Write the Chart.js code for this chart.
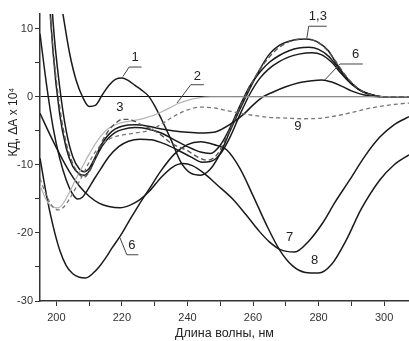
<!DOCTYPE html>
<html>
<head>
<meta charset="utf-8">
<script src="https://cdn.jsdelivr.net/npm/chart.js@4.4.1/dist/chart.umd.min.js"></script>
<style>
  html, body { margin: 0; padding: 0; background: #fff; }
  canvas { display: block; }
</style>
</head>
<body>
<canvas id="cd-chart" width="409" height="341"></canvas>
<script>
// Wavelength (nm) and CD values (dA x 10^4)
const wl1 = [196, 198, 200, 202, 204, 206, 208, 210, 212, 214, 216, 218, 220, 222, 224, 226, 228, 230, 232, 235, 238, 241, 244, 247, 250, 253, 256, 259, 262, 265, 268, 271, 274, 277, 280, 283, 286, 289, 292, 295, 298, 301, 307.6];
const cd1 = [40, 27, 18.5, 12.2, 6.5, 2.5, 0, -1.4, -1.2, 0.3, 1.7, 2.6, 2.8, 2.4, 1.7, 1.0, 0.2, -1.3, -3.2, -6.3, -9.6, -11.2, -11.5, -10.6, -8.3, -5.0, -1.8, 1.2, 4.0, 6.3, 7.6, 8.2, 8.5, 8.5, 8.0, 6.8, 4.5, 2.6, 1.2, 0.5, 0.1, 0, 0];

const wl2 = [195, 197, 199, 200.5, 202, 204, 206, 208, 210, 212, 214, 216.3, 219, 222, 225.5, 229, 232, 234.6, 237, 240, 243.8, 247, 307.6];
const cd2 = [-13, -15.2, -16.2, -16.3, -15.7, -14, -12, -10.2, -8.4, -6.8, -5.5, -4.5, -3.9, -3.6, -3.3, -2.8, -2.2, -1.6, -1.0, -0.5, -0.1, 0, 0];

const wl3 = [195, 197, 199, 201, 203, 205, 207, 208.5, 210, 212, 214, 216, 218, 220, 222, 224, 226, 228.5, 232, 235, 240, 243, 246, 249, 252, 255, 258, 261, 264, 267, 270, 273, 276, 279, 282, 285, 288, 291, 294, 297, 300, 307.6];
const cd3 = [40, 20, 7, -1.5, -6.8, -9.8, -11.4, -11.8, -11.0, -8.8, -6.5, -4.9, -3.9, -3.3, -3.3, -3.6, -4.1, -4.6, -5.6, -6.8, -7.9, -8.8, -9.3, -8.5, -5.8, -2.6, 0.5, 3.2, 5.3, 6.9, 7.9, 8.4, 8.5, 8.2, 7.2, 5.4, 3.3, 1.7, 0.7, 0.2, 0, 0];

const wl4 = [195, 197, 199, 201, 203, 205, 207, 208.5, 210, 212, 214, 216, 218, 220, 224, 228, 232, 236, 240, 244, 247, 250, 253, 256, 259, 262, 265, 268, 271, 274, 277, 280, 283, 286, 289, 292, 295, 298, 301, 307.6];
const cd4 = [45, 22, 6.5, -2.5, -7.5, -10.2, -11.3, -11.5, -10.9, -9.0, -7.2, -6.0, -5.2, -4.8, -4.5, -4.7, -5.3, -6.3, -7.3, -8.1, -8.3, -7.1, -4.5, -1.3, 1.6, 3.6, 5.1, 6.1, 6.8, 7.2, 7.3, 7.0, 6.0, 4.3, 2.5, 1.2, 0.5, 0.1, 0, 0];

const wl5 = [195, 197, 199, 201, 203, 205, 206.5, 208, 209.5, 211.5, 213.5, 216, 219, 222, 225.5, 229, 233, 237, 241, 244.5, 247, 250, 253, 256, 259, 262, 265, 268, 271, 274, 278, 281, 284, 287, 290, 293, 296, 299, 307.6];
const cd5 = [9.3, 1.8, -4.5, -9.0, -12.2, -14.3, -15.0, -14.7, -13.7, -12.1, -10.6, -8.8, -7.3, -6.5, -6.2, -6.3, -6.9, -7.8, -8.8, -9.6, -9.5, -8.4, -5.9, -2.6, 0.4, 2.7, 4.2, 5.2, 5.9, 6.3, 6.5, 6.2, 5.1, 3.4, 1.9, 0.9, 0.3, 0.05, 0];

const wl6 = [195, 197, 199, 201, 203, 205, 207, 208.5, 210, 212, 214, 216, 218, 220, 224, 228, 232, 236, 240, 244, 248, 251, 254, 257, 260, 263, 266, 270, 274, 278, 281, 284, 287, 290, 294, 298, 307.6];
const cd6 = [50, 28, 11, 1.5, -5, -8.8, -10.6, -11.0, -10.5, -8.7, -6.8, -5.5, -4.7, -4.3, -4.1, -4.3, -4.7, -5.0, -5.2, -5.3, -5.2, -4.6, -3.7, -2.6, -1.2, 0, 0.7, 1.5, 2.1, 2.4, 2.5, 2.2, 1.6, 0.9, 0.3, 0.05, 0];

const wl7 = [195, 198, 201, 204, 207, 210, 213, 216, 219.4, 222.5, 225.5, 228.5, 232, 235.5, 238.6, 241.5, 245, 249, 253.8, 258, 262, 265, 268.2, 272.7, 277, 281.3, 285, 289.5, 294, 298.7, 303, 307.6];
const cd7 = [-2.4, -5.5, -8.4, -11.0, -13.1, -14.6, -15.6, -16.1, -16.3, -15.9, -15.1, -13.8, -11.8, -10.3, -9.8, -10.1, -11.2, -12.9, -15.0, -17.4, -19.8, -21.3, -22.4, -22.8, -21.2, -18.5, -15.5, -12.2, -8.8, -5.9, -4.1, -2.9];

const wl8 = [195, 197, 199, 201, 203, 205, 207, 209, 211, 213, 215, 217, 219.4, 222, 225, 228.5, 232, 236, 240, 244, 248, 252, 256, 260, 264, 268, 272, 276, 280, 284, 288.6, 293, 298.7, 303, 307.6];
const cd8 = [-9, -14.5, -19, -22.5, -24.8, -26, -26.5, -26.6, -26, -25, -23.7, -22.2, -20.5, -18.4, -16, -13.4, -10.8, -8.4, -7, -6.6, -7, -7.8, -10.5, -14.5, -18.7, -22.4, -24.8, -25.8, -25.9, -24.6, -20.9, -16.5, -12.2, -10, -8.5];

const wl9 = [195, 197, 199, 200.5, 202, 204, 206, 208, 210, 212, 214, 217, 220, 224, 228.5, 232, 236, 240, 244, 248, 252, 256, 260, 265, 270, 275, 280, 285, 290, 295, 300, 304, 307.6];
const cd9 = [-12, -14.5, -16.2, -16.6, -16.3, -15, -13.3, -11.5, -9.6, -8, -6.9, -6, -5.6, -5.3, -4.9, -4, -2.8, -1.9, -1.5, -1.6, -2, -2.4, -2.7, -3, -3.1, -3.2, -3.15, -2.8, -2.3, -1.7, -1.3, -1.05, -0.9];

// Curve labels: text, anchor (nm, value) and leader polyline in data units
const curveLabels = [
    { text: '1',   at: [224, 5.8],     leader: [[220.3, 3.0], [222.2, 4.4], [226, 4.4]] },
    { text: '2',   at: [243, 3.0],     leader: [[236.8, -0.9], [241, 1.8], [245, 1.8]] },
    { text: '3',   at: [219.4, -1.5],  leader: null },
    { text: '1,3', at: [279.8, 11.8],  leader: [[276.4, 8.6], [277, 10.4], [282.5, 10.4]] },
    { text: '6',   at: [291.3, 6.3],   leader: [[281.9, 2.5], [286.5, 4.85], [293.5, 4.85]] },
    { text: '9',   at: [273.7, -4.4],  leader: null },
    { text: '7',   at: [271.2, -20.7], leader: null },
    { text: '8',   at: [278.8, -24.1], leader: null },
    { text: '6',   at: [223, -21.9],   leader: [[219.4, -20.7], [221.5, -23.2], [225, -23.2]] }
];

const yTitle = 'КД, ΔA x 10⁴';
const xTitle = 'Длина волны, нм';

function points(xs, ys) {
    return xs.map((x, i) => ({ x: x, y: ys[i] }));
}

function curve(xs, ys, color, width, dash) {
    return {
        data: points(xs, ys),
        borderColor: color,
        borderWidth: width,
        borderDash: dash || [],
        pointRadius: 0,
        fill: false,
        cubicInterpolationMode: 'monotone'
    };
}

// draws the y title and the numbered curve labels
const labelPlugin = {
    id: 'curveLabels',
    afterDraw(chart) {
        const ctx = chart.ctx;
        const xs = chart.scales.x;
        const ys = chart.scales.y;
        ctx.save();
        ctx.strokeStyle = '#444';
        ctx.lineWidth = 1;
        curveLabels.forEach(l => {
            if (l.leader) {
                ctx.beginPath();
                l.leader.forEach((p, i) => {
                    const px = xs.getPixelForValue(p[0]);
                    const py = ys.getPixelForValue(p[1]);
                    if (i === 0) ctx.moveTo(px, py); else ctx.lineTo(px, py);
                });
                ctx.stroke();
            }
            ctx.fillStyle = '#222';
            ctx.font = '13px "Liberation Sans", Arial, sans-serif';
            ctx.textAlign = 'center';
            ctx.textBaseline = 'middle';
            ctx.fillText(l.text, xs.getPixelForValue(l.at[0]), ys.getPixelForValue(l.at[1]));
        });

        ctx.translate(14, 122);
        ctx.rotate(-Math.PI / 2);
        ctx.fillStyle = '#222';
        ctx.font = '12px "Liberation Sans", Arial, sans-serif';
        ctx.textAlign = 'center';
        ctx.textBaseline = 'middle';
        ctx.fillText(yTitle, 0, 0);
        ctx.restore();
    }
};

const ctx = document.getElementById('cd-chart').getContext('2d');
new Chart(ctx, {
    type: 'line',
    data: {
        datasets: [
            curve(wl3, cd3, '#555', 1.4, [5, 3]),
            curve(wl9, cd9, '#777', 1.3, [4, 3]),
            curve(wl2, cd2, '#b4b4b4', 1.2),
            curve(wl1, cd1, '#1a1a1a', 1.5),
            curve(wl4, cd4, '#1a1a1a', 1.5),
            curve(wl5, cd5, '#1a1a1a', 1.5),
            curve(wl6, cd6, '#1a1a1a', 1.5),
            curve(wl7, cd7, '#1a1a1a', 1.5),
            curve(wl8, cd8, '#1a1a1a', 1.5)
        ]
    },
    options: {
        responsive: false,
        devicePixelRatio: 1,
        animation: false,
        layout: { padding: { top: 14, right: 0, bottom: 0, left: 0 } },
        plugins: {
            legend: { display: false },
            tooltip: { enabled: false }
        },
        scales: {
            x: {
                type: 'linear',
                min: 195,
                max: 307.6,
                afterFit: s => { s.height = 40; },
                border: { color: '#333', width: 1.5 },
                grid: { drawOnChartArea: false, tickLength: 5, tickColor: '#333' },
                ticks: {
                    stepSize: 10,
                    includeBounds: false,
                    autoSkip: false,
                    maxRotation: 0,
                    padding: 5,
                    color: '#333',
                    font: { family: '"Liberation Sans", Arial, sans-serif', size: 11 },
                    callback: v => (v % 20 === 0 ? String(v) : '')
                },
                title: {
                    display: true,
                    text: xTitle,
                    color: '#222',
                    font: { family: '"Liberation Sans", Arial, sans-serif', size: 12.5 },
                    padding: { top: 0, bottom: 0 }
                }
            },
            y: {
                min: -30,
                max: 12.2,
                afterFit: s => { s.width = 40; },
                border: { color: '#333', width: 1.5 },
                grid: {
                    drawOnChartArea: true,
                    color: c => (c.tick && c.tick.value === 0 ? '#111' : 'rgba(0,0,0,0)'),
                    lineWidth: 1,
                    tickLength: 5,
                    tickColor: '#333'
                },
                ticks: {
                    stepSize: 5,
                    includeBounds: false,
                    autoSkip: false,
                    padding: 2,
                    color: '#333',
                    font: { family: '"Liberation Sans", Arial, sans-serif', size: 11 },
                    callback: v => (v % 10 === 0 ? String(v) : '')
                }
            }
        }
    },
    plugins: [labelPlugin]
});
</script>
</body>
</html>
